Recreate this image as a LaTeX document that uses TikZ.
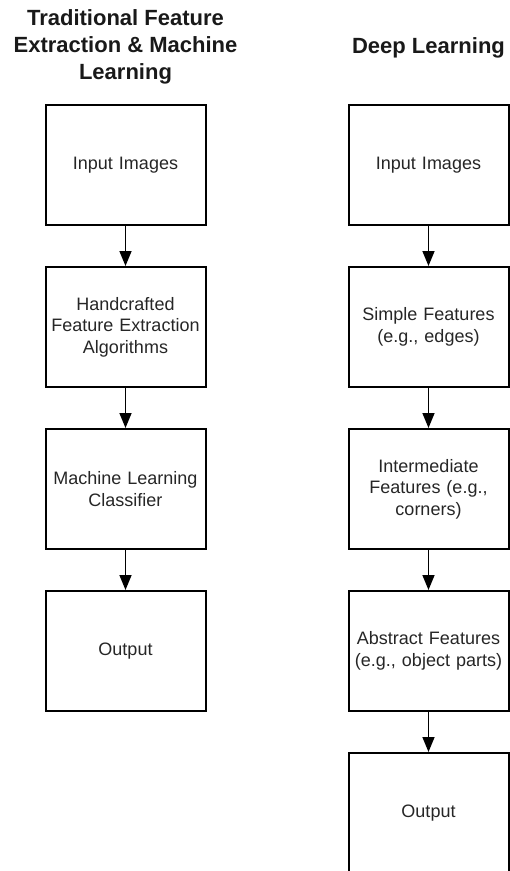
\documentclass[tikz,border=0pt]{standalone}
\usepackage{fontspec}
\setmainfont{Liberation Sans}
\usetikzlibrary{arrows.meta}
\begin{document}
\begin{tikzpicture}[x=1pt,y=-1pt,
  stepbox/.style={draw=black, line width=2pt, minimum width=160pt, minimum height=120pt,
    inner sep=2pt, align=center, text width=156pt, font=\fontsize{18}{21.6}\selectfont, text=black!85},
  titlefont/.style={align=center, font=\fontsize{22}{27}\selectfont\bfseries, text=black!90},
  flow/.style={draw=black, line width=1.6pt, -{Triangle[length=15pt,width=12pt]}}]
\useasboundingbox (0,0) rectangle (510,871);
\clip (0,0) rectangle (510,871);
% titles
\node[titlefont, anchor=center] (tl) at (125.5,47) {Traditional Feature\\Extraction \& Machine\\Learning};
\node[titlefont, anchor=base] (tr) at (428.5,53) {Deep Learning};
% left column
\node[stepbox] (l1) at (125.5,165) {Input Images};
\node[stepbox] (l2) at (125.5,327) {Handcrafted\\Feature Extraction\\Algorithms};
\node[stepbox] (l3) at (125.5,489) {Machine Learning\\Classifier};
\node[stepbox] (l4) at (125.5,651) {Output};
% right column
\node[stepbox] (r1) at (428.5,165) {Input Images};
\node[stepbox] (r2) at (428.5,327) {Simple Features\\(e.g., edges)};
\node[stepbox] (r3) at (428.5,489) {Intermediate\\Features (e.g.,\\corners)};
\node[stepbox] (r4) at (428.5,651) {Abstract Features\\(e.g., object parts)};
\node[stepbox] (r5) at (428.5,813) {Output};
% arrows
\draw[flow] (l1) -- (l2);
\draw[flow] (l2) -- (l3);
\draw[flow] (l3) -- (l4);
\draw[flow] (r1) -- (r2);
\draw[flow] (r2) -- (r3);
\draw[flow] (r3) -- (r4);
\draw[flow] (r4) -- (r5);
\end{tikzpicture}
\end{document}
